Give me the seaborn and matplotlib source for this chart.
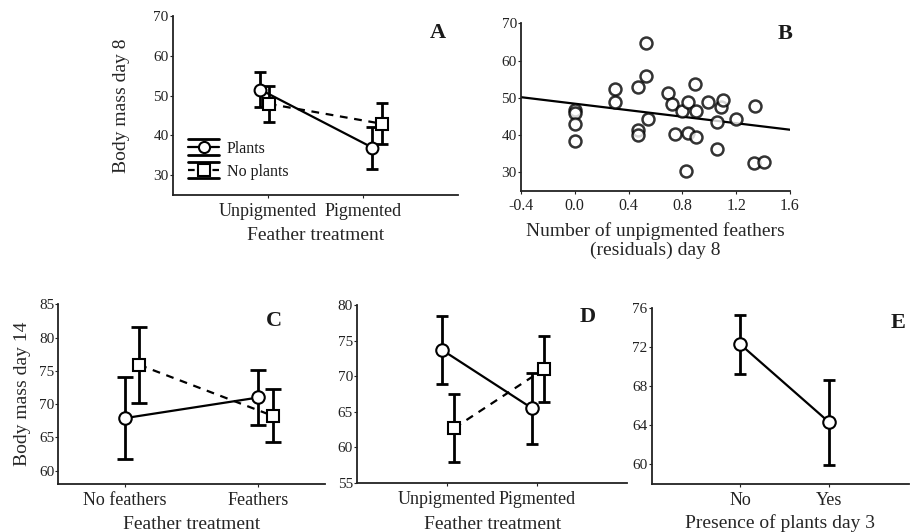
import numpy as np
import pandas as pd
import matplotlib
matplotlib.use("Agg")
import matplotlib.pyplot as plt
from matplotlib.lines import Line2D
from matplotlib.legend_handler import HandlerBase
import seaborn as sns

# ---------------- data ----------------
# A: body mass day 8 by feather treatment, with / without plants
a_groups = ["Unpigmented", "Pigmented"]
a_plants_mean = [51.5, 36.9]
a_plants_err = [4.5, 5.3]
a_noplants_mean = [47.9, 42.9]
a_noplants_err = [4.6, 5.1]

# B: body mass day 8 vs. residual number of unpigmented feathers
b_feathers = [0.0, 0.0, 0.0, 0.0, 0.30, 0.30, 0.47, 0.53, 0.53, 0.545, 0.47, 0.47,
              0.694, 0.725, 0.745, 0.80, 0.843, 0.843, 0.826, 0.895, 0.898, 0.898,
              0.993, 1.055, 1.055, 1.087, 1.10, 1.20, 1.341, 1.33, 1.408]
b_mass = [46.8, 45.8, 43.0, 38.5, 52.4, 49.0, 53.0, 64.6, 55.9, 44.3, 41.5, 40.1,
          51.2, 48.3, 40.2, 46.4, 49.0, 40.5, 30.3, 53.7, 46.4, 39.6,
          49.0, 43.6, 36.4, 47.5, 49.3, 44.2, 47.9, 32.5, 32.8]

# C: body mass day 14 by feather treatment
c_groups = ["No feathers", "Feathers"]
c_plants_mean = [67.9, 71.0]
c_plants_err = [6.15, 4.1]
c_noplants_mean = [75.9, 68.25]
c_noplants_err = [5.75, 3.95]

# D: body mass day 14 by feather pigmentation
d_groups = ["Unpigmented", "Pigmented"]
d_plants_mean = [73.7, 65.5]
d_plants_err = [4.8, 5.0]
d_noplants_mean = [62.7, 71.0]
d_noplants_err = [4.8, 4.65]

# E: body mass day 14 by presence of plants on day 3
e_groups = ["No", "Yes"]
e_mean = [72.25, 64.3]
e_err = [3.0, 4.35]

# ---------------- style ----------------
sns.set_theme(style="ticks")
plt.rcParams["font.family"] = ["Liberation Serif", "DejaVu Serif"]
plt.rcParams["axes.linewidth"] = 1.3
plt.rcParams["axes.edgecolor"] = "#222222"
plt.rcParams["xtick.major.size"] = 2
plt.rcParams["ytick.major.size"] = 2
plt.rcParams["xtick.major.width"] = 0.8
plt.rcParams["ytick.major.width"] = 0.8
plt.rcParams["xtick.color"] = "#222222"
plt.rcParams["ytick.color"] = "#222222"
plt.rcParams["text.color"] = "#1a1a1a"

NUM_FS = 11
CAT_FS = 13
LAB_FS = 14
LET_FS = 16

fig = plt.figure(figsize=(9.10, 5.32), dpi=100)
fig.patch.set_facecolor("white")


def series(ax, xpos, mean, err, marker, ls, ms, capsize, edge=1.5):
    df = pd.DataFrame({"x": xpos, "y": mean})
    ax.errorbar(xpos, mean, yerr=err, fmt="none", ecolor="black",
                elinewidth=2.0, capsize=capsize, capthick=2.0, zorder=2)
    sns.lineplot(data=df, x="x", y="y", ax=ax, color="black", lw=1.6,
                 linestyle=ls, marker=marker, markersize=ms,
                 markerfacecolor="white", markeredgecolor="black",
                 markeredgewidth=edge, zorder=3, sort=False,
                 estimator=None)
    if ls == "--":
        ax.lines[-1].set_dashes((3.5, 3.0))


def finish(ax, groups, ticks, xlim, ylim, yticks, xlabel, ylabel, letter,
           letter_xy, xpad=5, ypad=4):
    ax.set_xlim(*xlim)
    ax.set_ylim(*ylim)
    ax.set_xticks(ticks)
    ax.set_xticklabels(groups, fontsize=CAT_FS)
    ax.set_yticks(yticks)
    ax.set_yticklabels([str(v) for v in yticks], fontsize=NUM_FS)
    ax.tick_params(axis="x", pad=4)
    ax.tick_params(axis="y", pad=1)
    ax.set_xlabel(xlabel, fontsize=LAB_FS, labelpad=xpad)
    ax.set_ylabel(ylabel, fontsize=LAB_FS, labelpad=ypad)
    ax.text(*letter_xy, letter, transform=ax.transAxes, fontsize=LET_FS,
            fontweight="bold", ha="center", va="center")
    sns.despine(ax=ax)


class ErrHandle(HandlerBase):
    """Legend key: marker on a line, with long caps above and below."""

    def __init__(self, marker, ls):
        super().__init__()
        self.marker = marker
        self.ls = ls

    def create_artists(self, legend, orig_handle, xdescent, ydescent, width,
                       height, fontsize, trans):
        cy = height / 2 - ydescent
        x0, x1 = -xdescent, -xdescent + width
        off = 0.52 * fontsize
        arts = []
        for dy in (-off, off):
            arts.append(Line2D([x0, x1], [cy + dy, cy + dy], color="black",
                               lw=2.0, transform=trans))
        mid = Line2D([x0, x1], [cy, cy], color="black", lw=1.6,
                     linestyle=self.ls, transform=trans)
        if self.ls == "--":
            mid.set_dashes((3.0, 2.5))
        arts.append(mid)
        mk = Line2D([(x0 + x1) / 2], [cy], marker=self.marker, markersize=8,
                    markerfacecolor="white", markeredgecolor="black",
                    markeredgewidth=1.5, linestyle="none", transform=trans)
        arts.append(mk)
        return arts


# ---------------- panel A ----------------
axA = fig.add_axes([0.1898, 0.6335, 0.3135, 0.3365])
series(axA, [-0.08, 1.10], a_plants_mean, a_plants_err, "o", "-", 8.5, 4)
series(axA, [0.01, 1.20], a_noplants_mean, a_noplants_err, "s", "--", 8, 4)
finish(axA, a_groups, [0, 1], (-1, 2), (25, 70), [30, 40, 50, 60, 70],
       "Feather treatment", "Body mass day 8", "A", (0.93, 0.905),
       xpad=4.5, ypad=17)
h1 = Line2D([], [])
h2 = Line2D([], [])
axA.legend([h1, h2], ["Plants", "No plants"],
           handler_map={h1: ErrHandle("o", "-"), h2: ErrHandle("s", "--")},
           loc="lower left", bbox_to_anchor=(0.055, 0.085), frameon=False,
           fontsize=11.5, handlelength=1.9, handletextpad=0.5,
           labelspacing=0.45, borderpad=0, borderaxespad=0)

# ---------------- panel B ----------------
axB = fig.add_axes([0.5725, 0.641, 0.2956, 0.3152])
axB.set_xlim(-0.4, 1.6)
axB.set_ylim(25, 70)
sns.regplot(x=b_feathers, y=b_mass, ax=axB, ci=None, truncate=False,
            scatter_kws=dict(s=74, facecolors="white", edgecolors="black",
                             linewidths=1.8, zorder=3),
            line_kws=dict(color="black", lw=1.6, zorder=2))
axB.set_xlim(-0.4, 1.6)
axB.set_ylim(25, 70)
bx = [-0.4, 0.0, 0.4, 0.8, 1.2, 1.6]
axB.set_xticks(bx)
axB.set_xticklabels([f"{v:.1f}" for v in bx], fontsize=NUM_FS + 0.5)
axB.set_yticks([30, 40, 50, 60, 70])
axB.set_yticklabels(["30", "40", "50", "60", "70"], fontsize=NUM_FS)
axB.tick_params(axis="x", pad=3)
axB.tick_params(axis="y", pad=1)
axB.set_xlabel("Number of unpigmented feathers\n(residuals) day 8",
               fontsize=LAB_FS, labelpad=6, linespacing=1.15)
axB.set_ylabel("")
axB.text(0.981, 0.936, "B", transform=axB.transAxes, fontsize=LET_FS,
         fontweight="bold", ha="center", va="center")
sns.despine(ax=axB)

# ---------------- panel C ----------------
axC = fig.add_axes([0.0641, 0.0902, 0.2931, 0.3378])
series(axC, [0.0, 1.0], c_plants_mean, c_plants_err, "o", "-", 9, 5.5)
series(axC, [0.107, 1.107], c_noplants_mean, c_noplants_err, "s", "--", 8.5,
       5.5)
finish(axC, c_groups, [0, 1], (-0.5, 1.5), (58, 85), [60, 65, 70, 75, 80, 85],
       "Feather treatment", "Body mass day 14", "C", (0.81, 0.907),
       xpad=4.5, ypad=6)

# ---------------- panel D ----------------
axD = fig.add_axes([0.3926, 0.0927, 0.2964, 0.334])
series(axD, [-0.06, 0.94], d_plants_mean, d_plants_err, "o", "-", 9, 4.5)
series(axD, [0.08, 1.08], d_noplants_mean, d_noplants_err, "s", "--", 8.5,
       4.5)
finish(axD, d_groups, [0, 1], (-1, 2), (55, 80), [55, 60, 65, 70, 75, 80],
       "Feather treatment", "", "D", (0.855, 0.932), xpad=5.5)

# ---------------- panel E ----------------
axE = fig.add_axes([0.7162, 0.0902, 0.2827, 0.3314])
series(axE, [0.0, 1.0], e_mean, e_err, "o", "-", 9, 4.5)
finish(axE, e_groups, [0, 1], (-1, 1.9), (58, 76), [60, 64, 68, 72, 76],
       "Presence of plants day 3", "", "E", (0.957, 0.913), xpad=3.5)

fig.savefig("out.png", dpi=100, facecolor="white")
